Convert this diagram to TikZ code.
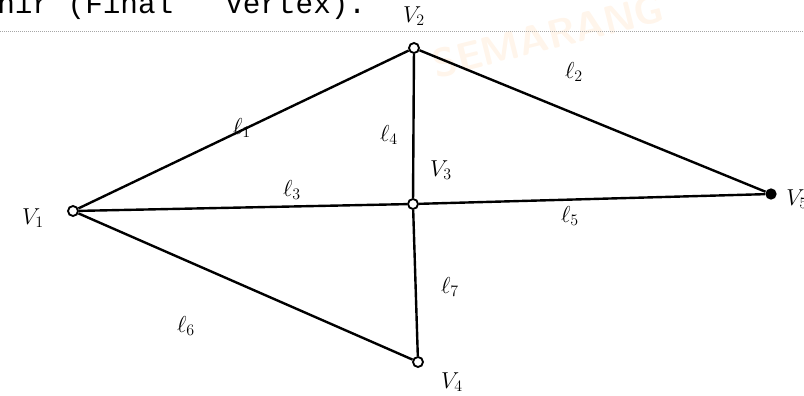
\documentclass[tikz,border=0pt]{standalone}
\usepackage{fontspec}
\newfontfamily\typew{Liberation Mono}
\begin{document}
\begin{tikzpicture}[x=0.75pt,y=-0.75pt,
  edge/.style={line width=1.8pt},
  opv/.style={circle,draw,line width=1.4pt,fill=white,inner sep=0pt,minimum size=7.5pt},
  filv/.style={circle,fill=black,inner sep=0pt,minimum size=8.5pt},
  lab/.style={font=\fontsize{17}{17}\selectfont,inner sep=0pt}]
\useasboundingbox (0,0) rectangle (804,396);
% faint watermark
\node[rotate=14,text=orange!8,font=\sffamily\bfseries\fontsize{30}{30}\selectfont] (wm) at (548,36) {SEMARANG};
% scanned header
\node[anchor=base west,inner sep=0pt,font=\typew\fontsize{22}{22}\selectfont] (t1) at (-3,13) {hir (Final};
\node[anchor=base west,inner sep=0pt,font=\typew\fontsize{22}{22}\selectfont] (t2) at (225,13) {Vertex).};
\coordinate (hl) at (0,31);
\coordinate (hr) at (804,31);
\draw[gray!70,line width=0.5pt,densely dotted] (hl) -- (hr);
% vertices
\node[opv] (v1) at (73,211) {};
\node[opv] (v2) at (414,48) {};
\node[opv] (v3) at (413,204) {};
\node[opv] (v4) at (418,362) {};
\node[filv] (v5) at (771,194) {};
% edges
\draw[edge] (v1) -- (v2);
\draw[edge] (v2) -- (v5);
\draw[edge] (v1) -- (v3);
\draw[edge] (v2) -- (v3);
\draw[edge] (v3) -- (v5);
\draw[edge] (v1) -- (v4);
\draw[edge] (v3) -- (v4);
% labels
\node[lab] (lv1) at (33,218) {$V_1$};
\node[lab] (lv2) at (414,16) {$V_2$};
\node[lab] (lv3) at (441,170) {$V_3$};
\node[lab] (lv4) at (452,382) {$V_4$};
\node[lab,anchor=west] (lv5) at (786,199) {$V_5$};
\node[lab] (l1) at (242,128) {$\ell_1$};
\node[lab] (l2) at (574,72) {$\ell_2$};
\node[lab] (l3) at (292,190) {$\ell_3$};
\node[lab] (l4) at (389,135) {$\ell_4$};
\node[lab] (l5) at (570,216) {$\ell_5$};
\node[lab] (l6) at (186,326) {$\ell_6$};
\node[lab] (l7) at (450,287) {$\ell_7$};
\end{tikzpicture}
\end{document}
